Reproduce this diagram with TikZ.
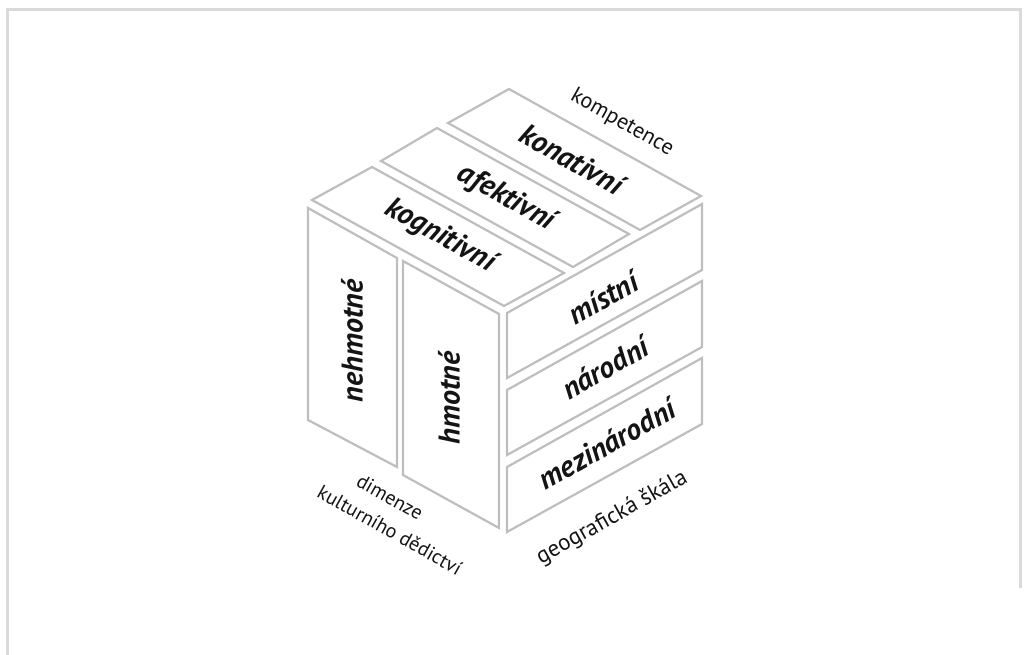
\documentclass[tikz,border=0pt]{standalone}
\usepackage{fontspec}
\setmainfont{PT Sans}
\definecolor{cubegray}{RGB}{190,190,190}
\definecolor{framegray}{RGB}{218,218,218}
\definecolor{ink}{RGB}{20,20,20}
\begin{document}
\begin{tikzpicture}[x=1pt,y=-1pt,
  face/.style={draw=cubegray, line width=2.2pt, line join=miter},
  frameline/.style={draw=framegray, line width=3pt},
  lab/.style={font=\fontsize{30}{32}\selectfont\bfseries\itshape, text=ink, inner sep=0pt},
  axislab/.style={font=\fontsize{20}{22}\selectfont, text=ink, inner sep=0pt}]
\useasboundingbox (0,0) rectangle (1028,655);
% frame
\draw[frameline] (7,655) -- (7,10) -- (1020,10) -- (1020,588);
% top face strips
\draw[face] (509,89) -- (701,196) -- (640,230) -- (448,123) -- cycle;
\draw[face] (437,128) -- (629,234) -- (573,267) -- (381,161) -- cycle;
\draw[face] (372,167) -- (564,273) -- (504,306) -- (312,200) -- cycle;
% left face panels
\draw[face] (308,208) -- (397,258) -- (397,467) -- (308,420) -- cycle;
\draw[face] (403,261) -- (499,314) -- (499,528) -- (403,475) -- cycle;
% right face panels
\draw[face] (507,313) -- (702,204) -- (702,270) -- (507,378) -- cycle;
\draw[face] (507,390) -- (702,281) -- (702,347) -- (507,455) -- cycle;
\draw[face] (507,467) -- (702,358) -- (702,424) -- (507,532) -- cycle;
% labels
\node[lab, rotate=-29.3] (konativni) at (572,159) {konativní};
\node[lab, rotate=-29.3] (afektivni) at (506,198) {afektivní};
\node[lab, rotate=-29.3] (kognitivni) at (440,236) {kognitivní};
\node[axislab, font=\fontsize{22}{24}\selectfont, rotate=-29.3] (kompetence) at (622,123) {kompetence};
\node[lab, rotate=90] (nehmotne) at (352,341) {nehmotné};
\node[lab, rotate=90] (hmotne) at (449,398) {hmotné};
\node[lab, rotate=29.3] (mistni) at (603,298) {místní};
\node[lab, rotate=29.3] (narodni) at (605,368) {národní};
\node[lab, rotate=29.3] (mezinarodni) at (607,444) {mezinárodní};
\node[axislab, font=\fontsize{23}{25}\selectfont, rotate=29.3] (geo) at (612,518) {geografická škála};
\node[axislab, rotate=-29.3] (dimA) at (390,497) {dimenze};
\node[axislab, rotate=-29.3] (dimB) at (390,530) {kulturního dědictví};
\end{tikzpicture}
\end{document}
